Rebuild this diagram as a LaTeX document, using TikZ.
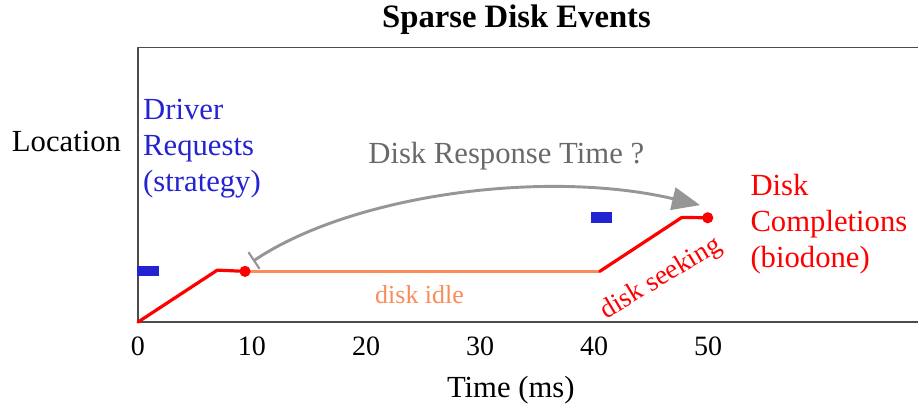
\documentclass[tikz,border=0pt]{standalone}
\usepackage{fontspec}
\setmainfont{Liberation Serif}
\usetikzlibrary{arrows.meta}
\definecolor{reqblue}{RGB}{35,35,210}
\definecolor{donered}{RGB}{255,0,0}
\definecolor{idleorange}{RGB}{250,140,90}
\definecolor{resgray}{RGB}{150,150,150}
\definecolor{restext}{RGB}{105,105,105}
\begin{document}
\begin{tikzpicture}[x=8.55pt,y=8.55pt,>=stealth,font=\fontsize{23}{27}\selectfont, line join=round, line cap=round,
	small/.style={font=\fontsize{19.5}{23}\selectfont},
	trace/.style={donered,line width=2.4pt}]
			\def\xmin{-12.1} \def\xmax{68.5}
			\def\ymin{-7.9} \def\ymax{28.25}
			\useasboundingbox (\xmin,\ymin) rectangle (\xmax,\ymax);
			\draw[black!70,line width=1.1pt,line cap=butt] (68.4,0)--(0,0)--(0,24.1)--(68.4,24.1);
			\node[font=\fontsize{24.5}{28}\selectfont\bfseries,anchor=base] (title) at (33.2,25.8) {Sparse Disk Events};
			\node[anchor=base] (loc) at (-6.27,14.93) {Location};
			\node[anchor=base] (time) at (32.7,-6.6) {Time (ms)};
			\foreach \x in {0,10,...,50}
			\node[anchor=base,font=\fontsize{21}{25}\selectfont] (t\x) at (\x,-2.95) {\x};
			\coordinate (s0) at (0,0);
			\coordinate (c1) at (6.96,4.56);
			\coordinate (d1) at (9.39,4.45);
			\coordinate (e1) at (40.5,4.45);
			\coordinate (c2) at (47.7,9.18);
			\coordinate (d2) at (49.97,9.15);
			\draw[idleorange,line width=2.2pt] (d1)--(e1);
			\draw[trace] (s0)--(c1)--(d1);
			\draw[trace] (e1)--(c2)--(d2);
			\fill[donered] (d1) circle (4.2pt) (d2) circle (4.2pt);
			\fill[reqblue] (-0.1,4.0) rectangle (1.84,4.91);
			\fill[reqblue] (39.7,8.66) rectangle (41.6,9.62);
			\coordinate (rs) at (10.1,5.35);
			\coordinate (re) at (49.3,10.26);
			\draw[resgray,line width=2.2pt,{Bar[width=15pt,line width=1.6pt]}-{Triangle[length=21pt,width=17pt]}]
			(rs) .. controls (19,11.3) and (36,13.4) .. (re);
			\node[anchor=base,text=restext] (rt) at (32.3,13.9) {Disk Response Time ?};
			\node[anchor=base west,align=left,text=reqblue,inner sep=0pt] (drv) at (0.44,11.43) {Driver\\Requests\\(strategy)};
			\node[anchor=base west,align=left,text=donered,inner sep=0pt] (cmp) at (53.7,4.8) {Disk\\Completions\\(biodone)};
			\node[small,anchor=base,text=idleorange] (idle) at (24.7,1.67) {disk idle};
			\node[font=\fontsize{20.5}{24}\selectfont,rotate=31,text=donered] (seek) at (45.9,3.8) {disk seeking};
		\end{tikzpicture}
\end{document}
